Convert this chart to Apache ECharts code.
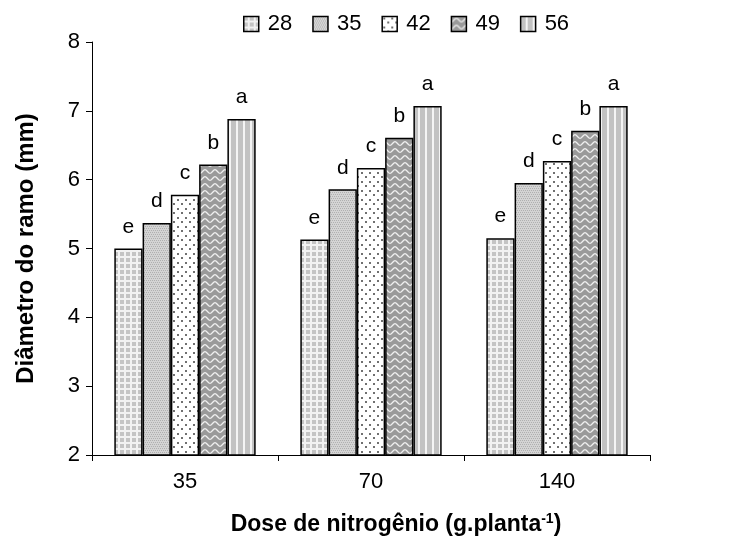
<!DOCTYPE html>
<html>
<head>
<meta charset="utf-8">
<script src="https://cdn.jsdelivr.net/npm/echarts@6/dist/echarts.min.js"></script>
<style>html,body{margin:0;padding:0;background:#fff}#c{width:734px;height:541px}</style>
</head>
<body>
<div id="c"></div>
<script>
var categories = ['35', '70', '140'];
var seriesNames = ['28', '35', '42', '49', '56'];
var s28 = [5.00, 5.13, 5.15];
var s35 = [5.37, 5.86, 5.95];
var s42 = [5.78, 6.17, 6.27];
var s49 = [6.22, 6.61, 6.71];
var s56 = [6.88, 7.07, 7.07];
var letters28 = ['e', 'e', 'e'];
var letters35 = ['d', 'd', 'd'];
var letters42 = ['c', 'c', 'c'];
var letters49 = ['b', 'b', 'b'];
var letters56 = ['a', 'a', 'a'];

function tile(w, h, draw) {
  var c = document.createElement('canvas');
  c.width = w; c.height = h;
  var g = c.getContext('2d');
  draw(g, w, h);
  return { image: c, repeat: 'repeat' };
}
var patterns = [
  tile(6, 6, function (g, w, h) {
    g.fillStyle = '#c4c4c4'; g.fillRect(0, 0, w, h);
    g.fillStyle = '#f2f2f2'; g.fillRect(4, 0, 2, h); g.fillRect(0, 4, w, 2);
  }),
  tile(4, 4, function (g, w, h) {
    g.fillStyle = '#d4d4d4'; g.fillRect(0, 0, w, h);
    g.fillStyle = '#b0b0b0'; g.fillRect(0, 0, 1, 1); g.fillRect(2, 0, 1, 1);
    g.fillRect(1, 2, 1, 1); g.fillRect(3, 2, 1, 1);
  }),
  tile(8, 9, function (g, w, h) {
    g.fillStyle = '#ffffff'; g.fillRect(0, 0, w, h);
    g.fillStyle = '#707070';
    g.fillRect(1, 1, 2, 2); g.fillRect(5, 5, 2, 2);
  }),
  tile(10, 7, function (g, w, h) {
    g.fillStyle = '#9a9a9a'; g.fillRect(0, 0, w, h);
    g.strokeStyle = '#f0f0f0'; g.lineWidth = 1.3;
    g.beginPath();
    for (var x = 0; x <= w; x += 0.5) {
      var y = 3.5 + 1.8 * Math.cos(2 * Math.PI * x / w);
      if (x === 0) g.moveTo(x, y); else g.lineTo(x, y);
    }
    g.stroke();
  }),
  tile(7, 4, function (g, w, h) {
    g.fillStyle = '#c2c2c2'; g.fillRect(0, 0, w, h);
    g.fillStyle = '#f4f4f4'; g.fillRect(5, 0, 2, h);
  })
];

var values = [s28, s35, s42, s49, s56];
var letters = [letters28, letters35, letters42, letters49, letters56];

var series = seriesNames.map(function (n, i) {
  return {
    name: n,
    type: 'bar',
    data: values[i],
    barGap: '0%',
    barCategoryGap: '24%',
    itemStyle: { color: patterns[i], borderColor: '#000', borderWidth: 1.5 },
    label: {
      show: true, position: 'top', distance: 11,
      fontFamily: 'Liberation Sans, Arial', fontSize: 21, color: '#000',
      formatter: function (p) { return letters[i][p.dataIndex]; }
    }
  };
});

var chart = echarts.init(document.getElementById('c'), null, { renderer: 'canvas' });
chart.setOption({
  animation: false,
  backgroundColor: '#fff',
  textStyle: { fontFamily: 'Liberation Sans, Arial' },
  legend: {
    top: 8, left: 238,
    itemWidth: 15, itemHeight: 15, itemGap: 20,
    icon: 'rect',
    textStyle: { fontSize: 22, color: '#000', padding: [0, 0, 0, 4] },
    itemStyle: { borderColor: '#000', borderWidth: 1.5 },
    data: seriesNames
  },
  grid: { left: 92, right: 84, top: 42, bottom: 86, outerBoundsMode: 'none', containLabel: false },
  xAxis: {
    type: 'category', data: categories,
    axisLine: { lineStyle: { color: '#000', width: 1 } },
    axisTick: { show: true, length: 6, lineStyle: { color: '#000' } },
    axisLabel: { fontSize: 22, color: '#000', margin: 16 },
    name: '{b|Dose de nitrogênio (g.planta}{sup|-1}{b|)}',
    nameLocation: 'middle', nameGap: 57,
    nameTextStyle: {
      fontSize: 23, fontWeight: 'bold', color: '#000',
      padding: [0, 0, 0, 50],
      rich: {
        b: { fontSize: 23, fontWeight: 'bold', color: '#000', verticalAlign: 'bottom' },
        sup: { fontSize: 14, fontWeight: 'bold', color: '#000', verticalAlign: 'bottom', padding: [0, 0, 10, 0] }
      }
    }
  },
  yAxis: {
    type: 'value', min: 2, max: 8, interval: 1,
    splitLine: { show: false },
    axisLine: { show: true, lineStyle: { color: '#000', width: 1 } },
    axisTick: { show: true, length: 6, lineStyle: { color: '#000' } },
    axisLabel: { fontSize: 22, color: '#000', margin: 12 },
    name: 'Diâmetro do ramo (mm)',
    nameLocation: 'middle', nameGap: 54,
    nameTextStyle: { fontSize: 24, fontWeight: 'bold', color: '#000' }
  },
  series: series
});
</script>
</body>
</html>
